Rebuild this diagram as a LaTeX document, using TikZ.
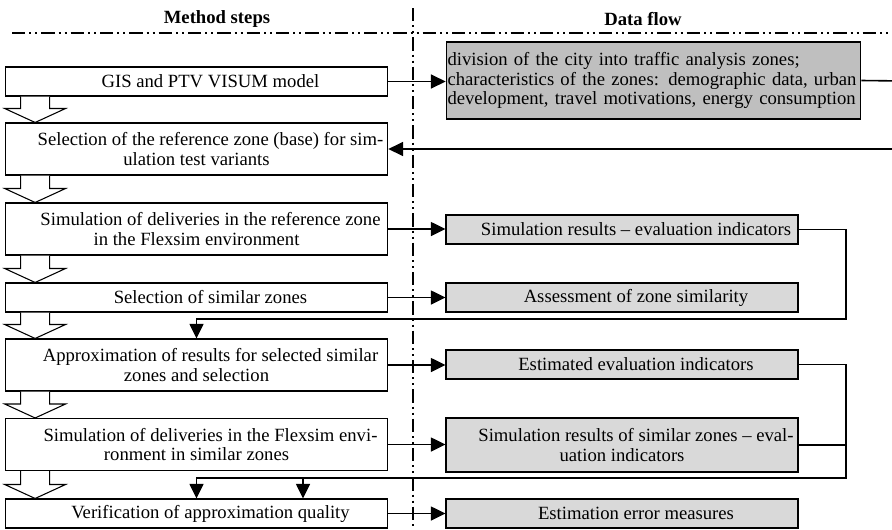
\documentclass[tikz,border=0pt]{standalone}
\usepackage{fontspec}
\setmainfont{Liberation Serif}
\usetikzlibrary{arrows.meta,calc}
\newcommand{\firstind}{\hspace*{21pt}}

\begin{document}
\begin{tikzpicture}[x=0.75pt,y=-0.75pt]
    \tikzset{stepbox/.style = {shape=rectangle,draw,line width=0.8pt,minimum width=287pt,minimum height=21.75pt,inner sep=1pt,align=center,font=\fontsize{14}{14.3}\selectfont}}
    \tikzset{tallbox/.style = {stepbox,minimum height=39pt}}
    \tikzset{databox/.style = {stepbox,minimum width=264pt,fill=gray!30}}
    \tikzset{flow/.style = {->,> = {Triangle[length=11pt,width=10.5pt]},line width=1.2pt}}
    \tikzset{divider/.style = {line width=1.1pt,dash pattern=on 10pt off 3pt on 1.5pt off 3pt on 1.5pt off 3pt}}
    \tikzset{hollow/.style = {draw,line width=0.8pt,fill=white}}
    \tikzset{title/.style = {font=\fontsize{14}{14.3}\selectfont\bfseries}}
    \useasboundingbox (0,0) rectangle (892,529);
    \clip (0,0) rectangle (892,529);
    % headers
    \node[title] (hsteps) at (217,19) {Method steps};
    \node[title] (hflow) at (643,19) {Data flow};
    \draw[divider] (12,33) -- (892,33);
    \draw[divider] (413,8) -- (413,529);
%%%%%%%%%%%%%%%%%
    % method steps
    \node[stepbox] (gis) at (196.5,81.5) {\firstind GIS and PTV VISUM model};
    \node[tallbox] (base) at (196.5,149) {\firstind Selection of the reference zone (base) for sim-\\ulation test variants};
    \node[tallbox] (simref) at (196.5,229) {\firstind Simulation of deliveries in the reference zone\\in the Flexsim environment};
    \node[stepbox] (similar) at (196.5,297.5) {\firstind Selection of similar zones};
    \node[tallbox] (approx) at (196.5,365) {\firstind Approximation of results for selected similar\\zones and selection};
    \node[tallbox] (simsim) at (196.5,444.5) {\firstind Simulation of deliveries in the Flexsim envi-\\ronment in similar zones};
    \node[stepbox] (verif) at (196.5,513.5) {\firstind Verification of approximation quality};
    \foreach \a/\b in {gis/base,base/simref,simref/similar,similar/approx,approx/simsim,simsim/verif}
        \draw[hollow] ($(\a.south west)+(16,0)$) -- ($(\b.north west)+(16,-14)$) -- ($(\b.north west)+(0,-14)$)
        -- ($(\b.north west)+(30.5,0)$) -- ($(\b.north west)+(61,-14)$) -- ($(\b.north west)+(45,-14)$)
        -- ($(\a.south west)+(45,0)$);
%%%%%%%%%%%%%%%%%
    % data flow
    \node[databox,fill=gray!50,minimum width=311pt,minimum height=57.75pt,text width=309pt,align=left] (zones) at (653.5,80.5)
    {division of the city into traffic analysis zones;\\\makebox[309pt][s]{characteristics of the zones: demographic data, urban}\\development, travel motivations, energy consumption};
    \node[databox] (simres) at (622,229.5) {\firstind Simulation results -- evaluation indicators};
    \node[databox] (assess) at (622,297.5) {\firstind Assessment of zone similarity};
    \node[databox] (estim) at (622,364.5) {\firstind Estimated evaluation indicators};
    \node[databox,minimum height=40.5pt] (simsimres) at (622,445) {\firstind Simulation results of similar zones -- eval-\\uation indicators};
    \node[databox] (errm) at (622,513.5) {\firstind Estimation error measures};
    \draw[flow] (gis.east) -- (gis.east -| zones.west);
    \draw[flow] (simref.east) -- (simref.east -| simres.west);
    \draw[flow] (similar.east) -- (similar.east -| assess.west);
    \draw[flow] (approx.east) -- (approx.east -| estim.west);
    \draw[flow] (simsim.east) -- (simsim.east -| simsimres.west);
    \draw[flow] (verif.east) -- (verif.east -| errm.west);
%%%%%%%%%%%%%%%%%
    % feedback
    \coordinate (o1) at (905,81);
    \coordinate (o2) at (905,149);
    \draw[flow] (zones.east) -- (o1) -- (o2) -- (base.east);
    \coordinate (r1) at (846,319);
    \draw[flow] (simres.east) -| (r1) -| (approx.north);
    \coordinate (r2) at (846,478);
    \coordinate (j2) at (303,478);
    \draw[flow] (estim.east) -| (r2) -| (verif.north);
    \draw[line width=1.2pt] (simsimres.east) -- (simsimres.east -| r2);
    \draw[flow] (j2) -- (j2 |- verif.north);
\end{tikzpicture}
\end{document}
